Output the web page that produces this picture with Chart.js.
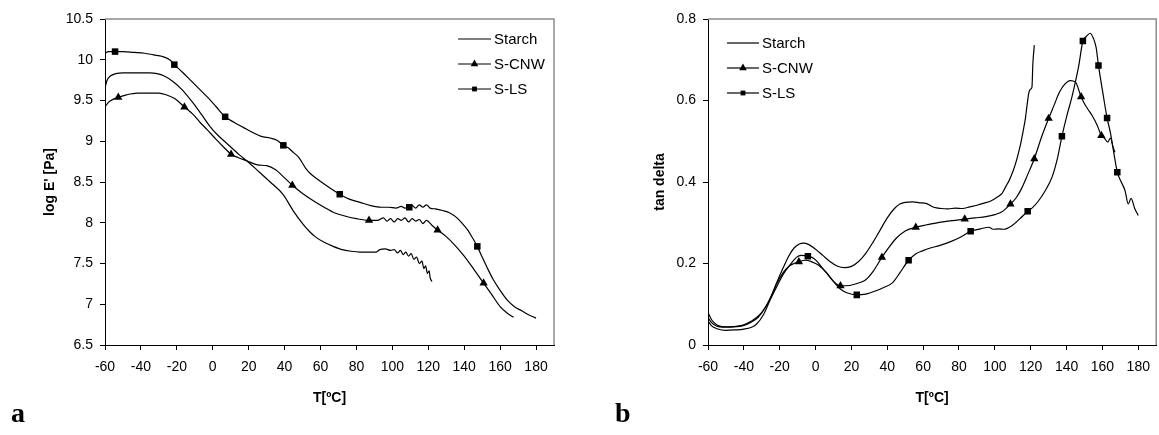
<!DOCTYPE html>
<html>
<head>
<meta charset="utf-8">
<script src="https://cdn.jsdelivr.net/npm/chart.js@4/dist/chart.umd.min.js"></script>
<style>
  html, body { margin: 0; padding: 0; background: #fff; }
  body { width: 1159px; height: 435px; position: relative; overflow: hidden; }
  .panel { position: absolute; top: 0; height: 435px; }
  .tag { position: absolute; font: bold 28px "Liberation Serif", "Times New Roman", serif; line-height: 1; color: #000; }
</style>
</head>
<body>
<div class="panel" style="left:0;width:580px"><canvas id="modulusChart"></canvas></div>
<div class="panel" style="left:580px;width:579px"><canvas id="tanDeltaChart"></canvas></div>
<div class="tag" style="left:11px;top:399px">a</div>
<div class="tag" style="left:615px;top:399px">b</div>
<script>
// axis ticks
const tempTicks = [-60, -40, -20, 0, 20, 40, 60, 80, 100, 120, 140, 160, 180];
const modulusTicks = [6.5, 7, 7.5, 8, 8.5, 9, 9.5, 10, 10.5];
const tanTicks = [0, 0.2, 0.4, 0.6, 0.8];
const seriesNames = ['Starch', 'S-CNW', 'S-LS'];

// (a) log E' vs temperature
const eStarchT = [-60, -59, -57, -54, -50, -45, -40, -35, -31, -27, -22, -17, -11, -6, -1.5, 3, 8, 15, 20, 26, 32, 39, 45, 50, 54, 57, 62, 67, 72, 77, 82, 88, 91, 93, 96, 99, 101, 103, 104.5, 106, 107.5, 109, 110.5, 112, 113.5, 115, 116.5, 117.5, 118.5, 119.5, 120.5, 121, 122];
const eStarch = [9.65, 9.74, 9.8, 9.83, 9.84, 9.84, 9.84, 9.84, 9.83, 9.8, 9.73, 9.63, 9.47, 9.32, 9.18, 9.07, 8.97, 8.83, 8.74, 8.62, 8.5, 8.35, 8.14, 7.99, 7.89, 7.83, 7.76, 7.71, 7.67, 7.65, 7.64, 7.64, 7.64, 7.67, 7.68, 7.66, 7.67, 7.63, 7.66, 7.61, 7.64, 7.59, 7.62, 7.55, 7.58, 7.5, 7.53, 7.44, 7.47, 7.38, 7.41, 7.33, 7.28];

const eCnwT = [-60, -58, -55, -52.6, -48, -42, -36, -30, -26, -21, -15.8, -11, -7, -3, 2, 6, 10.2, 14, 19, 25, 30, 35, 40, 44.3, 50, 56, 62, 68, 74, 80, 87, 92, 95, 97, 99, 101, 103, 105, 107, 109, 111, 113, 115, 117, 119, 122, 125.2, 130, 135, 140, 145, 150.8, 155, 160, 164, 167.5];
const eCnw = [9.42, 9.48, 9.52, 9.54, 9.57, 9.59, 9.59, 9.59, 9.57, 9.52, 9.42, 9.33, 9.23, 9.14, 9.02, 8.93, 8.84, 8.8, 8.76, 8.71, 8.7, 8.65, 8.55, 8.46, 8.36, 8.27, 8.19, 8.12, 8.08, 8.05, 8.03, 8.03, 8.06, 8.02, 8.05, 8.01, 8.05, 8.03, 8.06, 8.01, 8.05, 8.02, 8.04, 7.99, 8.03, 7.97, 7.91, 7.83, 7.72, 7.59, 7.44, 7.26, 7.13, 6.97, 6.89, 6.84];
const eCnwMarks = [-52.6, -15.8, 10.2, 44.3, 87, 125.2, 150.8];

const eLsT = [-60, -58, -54.4, -50, -44, -38, -33, -28, -24, -21.4, -17, -12, -7, -2, 2, 6.9, 12, 17, 22, 27, 32, 36, 39.3, 42, 45, 48, 50, 52, 54, 58, 63, 70.7, 76, 82, 88, 94, 98, 102, 105, 107, 109.4, 111, 113, 115, 117, 119, 121, 124, 128, 132, 136, 139, 142, 145, 147.3, 150, 153, 156, 160, 164, 168, 172, 175, 178, 180];
const eLs = [10.08, 10.1, 10.1, 10.1, 10.09, 10.08, 10.06, 10.04, 10, 9.94, 9.85, 9.74, 9.63, 9.52, 9.42, 9.3, 9.23, 9.17, 9.11, 9.06, 9.04, 9.01, 8.95, 8.92, 8.86, 8.8, 8.73, 8.66, 8.61, 8.54, 8.46, 8.35, 8.29, 8.25, 8.21, 8.19, 8.19, 8.18, 8.2, 8.18, 8.19, 8.21, 8.18, 8.22, 8.19, 8.22, 8.18, 8.17, 8.15, 8.12, 8.06, 7.99, 7.91, 7.8, 7.71, 7.58, 7.44, 7.31, 7.17, 7.05, 6.97, 6.92, 6.88, 6.85, 6.83];
const eLsMarks = [-54.4, -21.4, 6.9, 39.3, 70.7, 109.4, 147.3];

// (b) tan delta vs temperature
const tStarchT = [-60, -58, -55, -52, -48, -44, -40, -36, -32, -28, -25, -22, -18, -15, -12, -9, -7, -4, 0, 4, 8, 12, 16, 20, 24, 28, 32, 36, 40, 44, 47, 50, 54, 58, 62, 66, 70, 74, 78, 82, 86, 90, 94, 98, 101, 104, 106, 108, 110, 112, 114, 116, 117, 118, 119, 120, 120.7, 121.2, 122];
const tStarch = [0.08, 0.062, 0.049, 0.045, 0.044, 0.045, 0.048, 0.056, 0.068, 0.092, 0.118, 0.15, 0.19, 0.218, 0.238, 0.248, 0.25, 0.247, 0.235, 0.22, 0.205, 0.194, 0.19, 0.193, 0.205, 0.225, 0.252, 0.282, 0.312, 0.335, 0.346, 0.35, 0.351, 0.349, 0.347, 0.338, 0.335, 0.334, 0.336, 0.335, 0.339, 0.343, 0.348, 0.354, 0.362, 0.372, 0.388, 0.404, 0.425, 0.452, 0.486, 0.53, 0.555, 0.59, 0.62, 0.628, 0.633, 0.69, 0.736];

const tCnwT = [-60, -58, -55, -51.5, -46, -40.4, -36, -31, -27, -24, -21.8, -18, -15, -12, -9.3, -6, -3, 0, 2.2, 6, 9.6, 13.9, 19, 24, 28, 32, 37, 41, 45, 50, 55.9, 62, 69, 76, 83.2, 89, 95, 100, 104, 108.7, 112, 115, 118, 122, 126, 130, 133, 136, 139, 142, 145, 148.1, 150, 152, 154, 157, 159.4, 161, 163, 164.5, 166, 167];
const tCnw = [0.067, 0.055, 0.046, 0.044, 0.045, 0.049, 0.058, 0.075, 0.1, 0.125, 0.149, 0.178, 0.193, 0.2, 0.204, 0.208, 0.206, 0.2, 0.194, 0.178, 0.158, 0.145, 0.146, 0.152, 0.16, 0.18, 0.215, 0.24, 0.262, 0.28, 0.289, 0.295, 0.301, 0.305, 0.309, 0.312, 0.315, 0.32, 0.327, 0.346, 0.362, 0.385, 0.415, 0.457, 0.51, 0.556, 0.588, 0.62, 0.64, 0.649, 0.645, 0.609, 0.592, 0.578, 0.565, 0.54, 0.514, 0.508, 0.498, 0.508, 0.485, 0.473];
const tCnwMarks = [-9.3, 13.9, 37, 55.9, 83.2, 108.7, 122, 130, 148.1, 159.4];

const tLsT = [-60, -58, -55, -50, -45, -40, -36, -33, -29, -25.6, -22, -18, -14, -10.7, -8, -4.3, -2, 0.4, 4, 9.6, 14, 17, 23, 28, 33.7, 38, 43, 47, 51.9, 56, 59.6, 64, 69, 75, 81, 86.5, 92, 96.7, 99, 102.2, 105, 109.6, 114, 118.3, 121, 124.4, 128, 131.9, 135, 137.4, 140, 143, 146.7, 149.1, 151, 153.2, 155, 156.5, 157.8, 160.6, 162.6, 164.5, 166.1, 168.3, 170.5, 172.6, 174.4, 176, 178, 180];
const tLs = [0.059, 0.047, 0.04, 0.036, 0.037, 0.039, 0.043, 0.051, 0.075, 0.108, 0.14, 0.174, 0.198, 0.215, 0.22, 0.218, 0.215, 0.207, 0.188, 0.158, 0.137, 0.129, 0.123, 0.125, 0.133, 0.141, 0.153, 0.177, 0.208, 0.224, 0.231, 0.238, 0.244, 0.253, 0.265, 0.279, 0.285, 0.289, 0.284, 0.285, 0.284, 0.293, 0.31, 0.328, 0.337, 0.354, 0.378, 0.412, 0.46, 0.512, 0.56, 0.609, 0.683, 0.746, 0.757, 0.765, 0.752, 0.73, 0.686, 0.609, 0.557, 0.52, 0.478, 0.424, 0.4, 0.379, 0.346, 0.36, 0.335, 0.318];
const tLsMarks = [-4.3, 23, 51.9, 86.5, 118.3, 137.4, 149.1, 157.8, 162.6, 168.3];

Chart.defaults.font.family = '"Liberation Sans", Arial, sans-serif';
Chart.defaults.color = '#000';

function series(label, xs, ys, marks, style) {
  return {
    label: label,
    data: xs.map((x, i) => ({ x: x, y: ys[i] })),
    marks: marks,
    borderColor: '#000',
    backgroundColor: '#000',
    borderWidth: 1.2,
    pointStyle: style || 'circle',
    pointRadius: c => (marks && marks.includes(c.raw.x)) ? (style === 'rect' ? 4.6 : 4.8) : 0,
    pointBorderWidth: 0,
    cubicInterpolationMode: 'monotone'
  };
}

// gray frame on the top and right of the plot area
const plotFrame = {
  id: 'plotFrame',
  beforeDatasetsDraw(chart) {
    const { ctx, chartArea: a } = chart;
    ctx.save();
    ctx.strokeStyle = '#8c8c8c';
    ctx.lineWidth = 1.5;
    ctx.beginPath();
    ctx.moveTo(a.left, a.top);
    ctx.lineTo(a.right, a.top);
    ctx.lineTo(a.right, a.bottom);
    ctx.stroke();
    ctx.restore();
  }
};

// legend drawn inside the plot: short line, marker, name
const seriesKey = {
  id: 'seriesKey',
  afterDraw(chart, args, opts) {
    const ctx = chart.ctx;
    ctx.save();
    ctx.font = '15px "Liberation Sans", Arial, sans-serif';
    ctx.textBaseline = 'middle';
    chart.data.datasets.forEach((ds, i) => {
      const y = opts.top + i * opts.gap;
      ctx.strokeStyle = '#000';
      ctx.fillStyle = '#000';
      ctx.lineWidth = 1.2;
      ctx.beginPath();
      ctx.moveTo(opts.left, y);
      ctx.lineTo(opts.left + opts.length, y);
      ctx.stroke();
      if (ds.marks) {
        Chart.helpers.drawPoint(ctx, {
          pointStyle: ds.pointStyle, rotation: 0, borderWidth: 0,
          radius: ds.pointStyle === 'rect' ? 3.4 : 4.4
        }, opts.left + opts.length / 2, y);
      }
      ctx.fillText(seriesNames[i], opts.left + opts.length + 3, y + 1);
    });
    ctx.restore();
  }
};

function makeChart(id, datasets, yTicks, yTitle, box, key) {
  return new Chart(document.getElementById(id), {
    type: 'line',
    data: { datasets: datasets },
    options: {
      responsive: true,
      maintainAspectRatio: false,
      animation: false,
      events: [],
      layout: { padding: { top: 19, right: box.right, left: 0, bottom: 0 } },
      plugins: { legend: { display: false }, tooltip: { enabled: false }, seriesKey: key },
      scales: {
        x: {
          type: 'linear',
          min: -60,
          max: 190,
          afterBuildTicks: s => { s.ticks = tempTicks.map(v => ({ value: v })); },
          afterFit: s => { s.height = 90; },
          border: { color: '#000', width: 1 },
          grid: { drawOnChartArea: false, drawTicks: true, tickLength: 5, color: '#000' },
          ticks: { color: '#000', font: { size: 14 }, padding: 9, maxRotation: 0, autoSkip: false, callback: v => String(v) },
          title: { display: true, text: 'T[ºC]', color: '#000', font: { size: 14, weight: 'bold' }, padding: { top: 0, bottom: 28.6 } }
        },
        y: {
          type: 'linear',
          min: yTicks[0],
          max: yTicks[yTicks.length - 1],
          afterBuildTicks: s => { s.ticks = yTicks.map(v => ({ value: v })); },
          afterFit: s => { s.width = box.left; },
          border: { color: '#000', width: 1 },
          grid: { drawOnChartArea: false, drawTicks: true, tickLength: 5, color: '#000' },
          ticks: { color: '#000', font: { size: 14 }, padding: 7, callback: v => String(v) },
          title: { display: true, text: yTitle, color: '#000', font: { size: 14, weight: 'bold' }, padding: { top: box.titleX - 8.4, bottom: 0 } }
        }
      }
    },
    plugins: [plotFrame, seriesKey]
  });
}

makeChart('modulusChart', [
  series(seriesNames[0], eStarchT, eStarch),
  series(seriesNames[1], eCnwT, eCnw, eCnwMarks, 'triangle'),
  series(seriesNames[2], eLsT, eLs, eLsMarks, 'rect')
], modulusTicks, "log E' [Pa]", { left: 105, right: 26, titleX: 50 },
  { left: 458, top: 39, gap: 25, length: 33 });

makeChart('tanDeltaChart', [
  series(seriesNames[0], tStarchT, tStarch),
  series(seriesNames[1], tCnwT, tCnw, tCnwMarks, 'triangle'),
  series(seriesNames[2], tLsT, tLs, tLsMarks, 'rect')
], tanTicks, 'tan delta', { left: 128, right: 1, titleX: 80 },
  { left: 147, top: 43, gap: 25, length: 32 });
</script>
</body>
</html>
